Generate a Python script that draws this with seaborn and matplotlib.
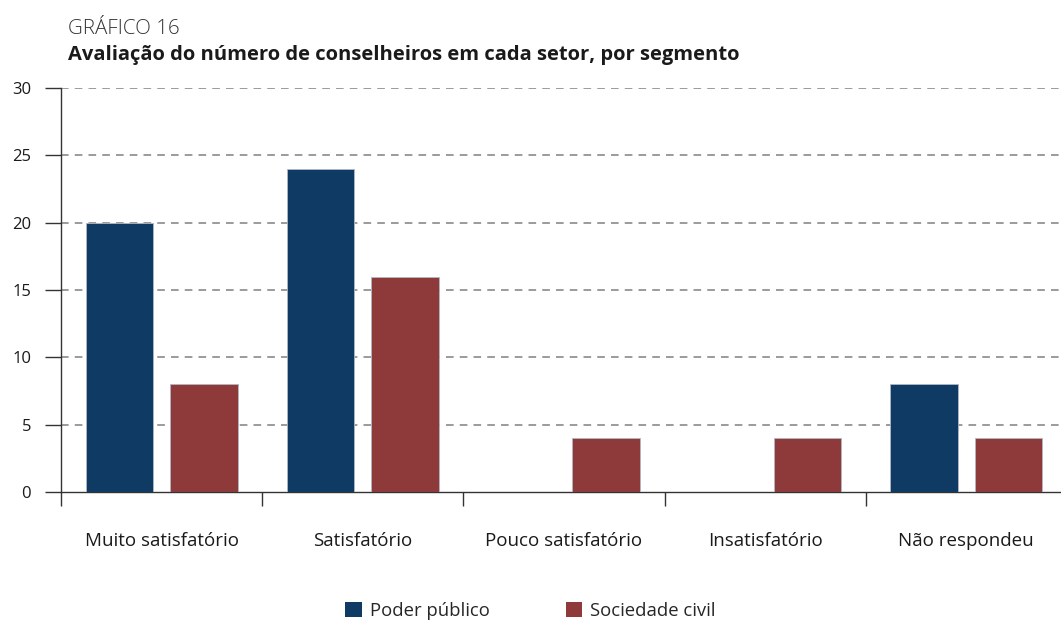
import matplotlib
matplotlib.use("Agg")
import matplotlib.pyplot as plt
import seaborn as sns
import pandas as pd
from matplotlib.patches import Patch

categories = ["Muito satisfatório", "Satisfatório", "Pouco satisfatório", "Insatisfatório", "Não respondeu"]
series_names = ["Poder público", "Sociedade civil"]
poder_publico = [20, 24, 0, 0, 8]
sociedade_civil = [8, 16, 4, 4, 4]
y_ticks = [0, 5, 10, 15, 20, 25, 30]
colors = ["#0e3a64", "#8f3a3a"]

sns.set_theme(style="white")
plt.rcParams['font.family'] = ['Open Sans', 'DejaVu Sans']

df = pd.DataFrame({
    "categoria": categories * 2,
    "valor": poder_publico + sociedade_civil,
    "segmento": [series_names[0]] * len(categories) + [series_names[1]] * len(categories),
})

fig = plt.figure(figsize=(10.61, 6.21), dpi=100)
ax = fig.add_axes([0.0575, 0.2077, 0.948, 0.6506])

sns.barplot(data=df, x="categoria", y="valor", hue="segmento", order=categories,
            hue_order=series_names, palette=colors, saturation=1, width=0.84, gap=0.2,
            edgecolor="#b0b8c4", linewidth=0.6, ax=ax, legend=False, zorder=3)

ax.set_xlim(-0.5, len(categories) - 0.5)
ax.set_ylim(0, 30)
ax.set_yticks(y_ticks)
ax.set_yticklabels([str(v) for v in y_ticks], fontsize=12, color="#1a1a1a")
for v in y_ticks[1:]:
    ax.axhline(v, color="#808080", linestyle=(0, (5, 4)), linewidth=1.1, zorder=1)

ax.set_xticks(range(len(categories)))
ax.set_xticklabels(categories, fontsize=13.5, color="#1a1a1a")
ax.tick_params(axis="x", which="major", bottom=True, length=0, pad=29)
ax.set_xticks([i - 0.5 for i in range(len(categories) + 1)], minor=True)
ax.tick_params(axis="x", which="minor", bottom=True, length=10, width=1.0, color="#333333", direction="out")
ax.tick_params(axis="y", which="major", left=True, length=11.5, width=1.0, color="#333333", direction="out", pad=10)

for s in ["top", "right"]:
    ax.spines[s].set_visible(False)
ax.spines["left"].set_color("#333333")
ax.spines["bottom"].set_color("#333333")
ax.spines["left"].set_linewidth(1.0)
ax.spines["bottom"].set_linewidth(1.0)
ax.set_xlabel("")
ax.set_ylabel("")

fig.text(0.064, 0.945, "GRÁFICO 16", fontsize=14.8, fontweight="light", color="#333333", va="baseline")
fig.text(0.064, 0.903, "Avaliação do número de conselheiros em cada setor, por segmento",
         fontsize=14.5, fontweight="bold", color="#1a1a1a", va="baseline")

handles = [Patch(facecolor=c, edgecolor="none") for c in colors]
fig.legend(handles, series_names, loc="center", bbox_to_anchor=(0.50, 0.016), ncol=2,
           frameon=False, fontsize=13.3, handlelength=0.9, handleheight=0.9,
           handletextpad=0.45, columnspacing=4.1)

fig.savefig("out.png", dpi=100)
